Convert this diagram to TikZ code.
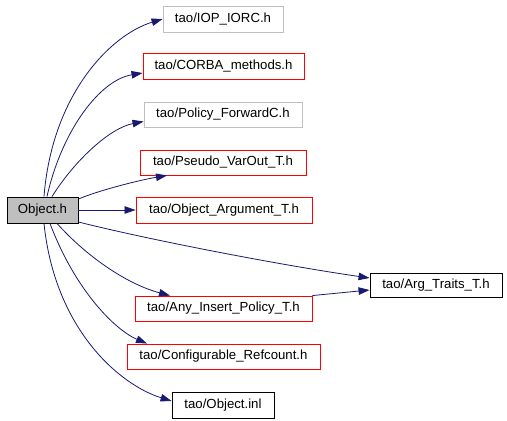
\documentclass[tikz,border=0pt]{standalone}
\usepackage{fontspec}
\setmainfont{Liberation Sans}
\usetikzlibrary{arrows.meta}
\definecolor{edgec}{HTML}{191970}
\definecolor{grayb}{HTML}{BFBFBF}
\definecolor{redb}{HTML}{FF0000}
\begin{document}
\begin{tikzpicture}[x=1pt,y=-1pt,
  fbox/.style={draw,line width=0.9pt,inner sep=0pt,minimum height=25pt,font=\fontsize{13.2}{15}\selectfont},
  redbox/.style={fbox,draw=redb},
  graybox/.style={fbox,draw=grayb},
  blackbox/.style={fbox,draw=black},
  dep/.style={draw=edgec,line width=0.8pt,-{Triangle[length=11pt,width=7.5pt]}}]
\useasboundingbox (0,0) rectangle (507,421);
\node[blackbox,fill=grayb,minimum width=71pt,minimum height=26pt] (obj) at (42.5,210) {Object.h};
\node[graybox,minimum width=120pt,minimum height=26pt] (iop) at (223,19) {tao/IOP\_IORC.h};
\node[redbox,minimum width=161pt,minimum height=26pt] (corba) at (223.5,66) {tao/CORBA\_methods.h};
\node[graybox,minimum width=158pt] (policy) at (223,114.5) {tao/Policy\_ForwardC.h};
\node[redbox,minimum width=166pt] (pseudo) at (223,162.5) {tao/Pseudo\_VarOut\_T.h};
\node[redbox,minimum width=176pt,minimum height=26pt] (objarg) at (224,210) {tao/Object\_Argument\_T.h};
\node[redbox,minimum width=177pt] (any) at (223.5,308.5) {tao/Any\_Insert\_Policy\_T.h};
\node[redbox,minimum width=193pt] (conf) at (223.5,356.5) {tao/Configurable\_Refcount.h};
\node[blackbox,minimum width=102pt,minimum height=26pt] (inl) at (223,405) {tao/Object.inl};
\node[blackbox,minimum width=132pt,minimum height=24pt] (arg) at (436,285) {tao/Arg\_Traits\_T.h};

\draw[dep] ([xshift=1.5pt]obj.north) .. controls (52,95) and (110,35) .. (iop.west);
\draw[dep] ([xshift=4.5pt]obj.north) .. controls (62,130) and (100,80) .. ([yshift=-7pt]corba.west);
\draw[dep] ([xshift=9.5pt]obj.north) .. controls (75,160) and (110,128) .. ([yshift=-7pt]policy.west);
\draw[dep] ([yshift=11pt]obj.east) .. controls (100,190) and (140,180) .. ([xshift=-56pt]pseudo.south);
\draw[dep] (obj.east) -- (objarg.west);
\draw[dep] ([yshift=-12pt]obj.east) .. controls (150,240) and (280,265) .. ([yshift=7pt]arg.west);
\draw[dep] (any.north east) -- ([yshift=-5pt]arg.west);
\draw[dep] ([xshift=14.5pt]obj.south) .. controls (90,260) and (130,285) .. ([xshift=-53.5pt]any.north);
\draw[dep] ([xshift=7.5pt]obj.south) .. controls (75,290) and (115,330) .. ([xshift=-76.5pt]conf.north);
\draw[dep] ([xshift=1.5pt]obj.south) .. controls (55,330) and (120,385) .. ([yshift=4pt]inl.west);
\end{tikzpicture}
\end{document}
